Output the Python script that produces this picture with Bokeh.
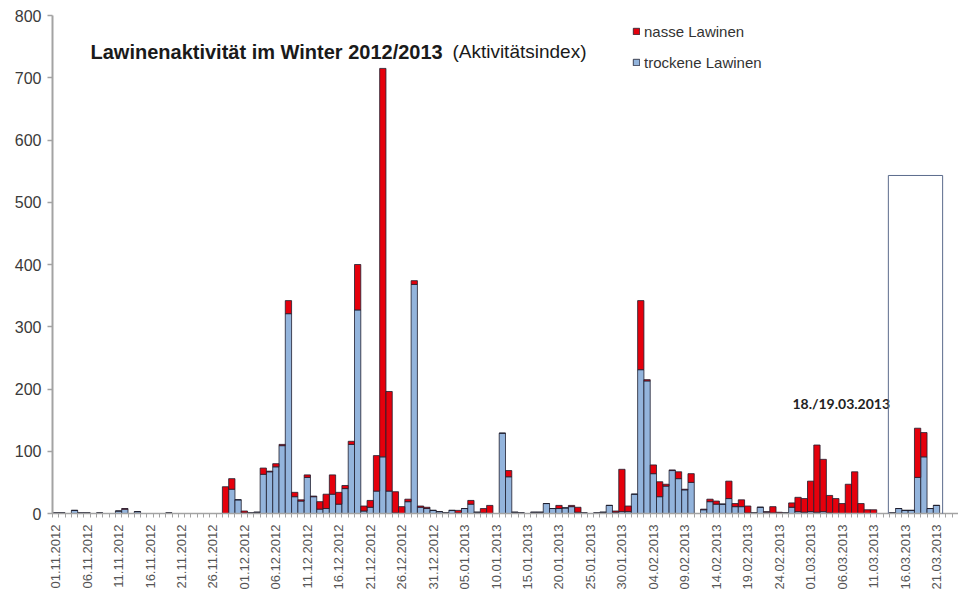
import math
import pandas as pd
from bokeh.plotting import figure
from bokeh.models import (ColumnDataSource, Range1d, FixedTicker, Label, Legend,
                          LegendItem)
from bokeh.embed import file_html
from bokeh.resources import INLINE

# ---------------- data ----------------
dates = pd.date_range("2012-11-01", "2013-03-24").strftime("%d.%m.%Y").tolist()

# trockene Lawinen (dry) per day, 01.11.2012 ... 24.03.2013
trocken = [
    1, 1, 0, 5, 1, 1, 0, 1, 0, 0,            # 01.11 - 10.11
    4, 7, 0, 3, 0, 0, 0, 0, 1, 0,            # 11.11 - 20.11
    0, 0, 0, 0, 0, 0, 0, 0, 39, 22,          # 21.11 - 30.11
    1, 1, 2, 63, 67, 75, 109, 321, 27, 20,   # 01.12 - 10.12
    58, 27, 7, 8, 31, 15, 40, 111, 327, 4,   # 11.12 - 20.12
    10, 36, 91, 36, 1, 0, 19, 368, 10, 8,    # 21.12 - 30.12
    5,                                       # 31.12
    3, 1, 5, 1, 8, 15, 2, 1, 0, 0,           # 01.01 - 10.01
    129, 59, 2, 1, 0, 2, 2, 16, 8, 8,        # 11.01 - 20.01
    9, 11, 2, 1, 0, 1, 2, 13, 2, 3,          # 21.01 - 30.01
    3,                                       # 31.01
    31, 231, 213, 64, 27, 44, 69, 56, 38, 50,  # 01.02 - 10.02
    0, 6, 19, 15, 15, 24, 11, 11, 1, 1,      # 11.02 - 20.02
    10, 2, 1, 1, 1, 10, 3, 2,                # 21.02 - 28.02
    3, 2, 3, 1, 0, 0, 0, 0, 0, 0,            # 01.03 - 10.03
    0, 0, 0, 1, 8, 5, 5, 58, 91, 8,          # 11.03 - 20.03
    13, 0, 0, 0,                             # 21.03 - 24.03
]

# nasse Lawinen (wet) per day
nass = [
    0, 0, 0, 0, 0, 0, 0, 0, 0, 0,
    0, 1, 0, 0, 0, 0, 0, 0, 0, 0,
    0, 0, 0, 0, 0, 0, 0, 43, 17, 0,
    3, 0, 0, 10, 1, 5, 2, 21, 7, 2,
    4, 1, 12, 23, 31, 19, 5, 5, 73, 8,
    11, 57, 624, 160, 34, 11, 4, 6, 2, 2,
    0,
    0, 0, 0, 4, 0, 6, 0, 7, 13, 0,
    0, 10, 0, 0, 0, 0, 0, 0, 0, 5,
    0, 2, 8, 0, 0, 0, 0, 0, 2, 68,
    9,
    0, 111, 2, 14, 24, 3, 1, 11, 1, 14,
    0, 1, 4, 5, 0, 28, 5, 11, 11, 0,
    0, 1, 10, 1, 0, 7, 23, 22,
    49, 108, 84, 28, 24, 16, 47, 67, 16, 6,
    6, 0, 0, 0, 0, 0, 0, 79, 39, 0,
    0, 0, 0, 0,
]

tick_labels = [
    "01.11.2012", "06.11.2012", "11.11.2012", "16.11.2012", "21.11.2012",
    "26.11.2012", "01.12.2012", "06.12.2012", "11.12.2012", "16.12.2012",
    "21.12.2012", "26.12.2012", "31.12.2012", "05.01.2013", "10.01.2013",
    "15.01.2013", "20.01.2013", "25.01.2013", "30.01.2013", "04.02.2013",
    "09.02.2013", "14.02.2013", "19.02.2013", "24.02.2013", "01.03.2013",
    "06.03.2013", "11.03.2013", "16.03.2013", "21.03.2013",
]

y_ticks = [0, 100, 200, 300, 400, 500, 600, 700, 800]

series_names = ["nasse Lawinen", "trockene Lawinen"]
title_bold = "Lawinenaktivität im Winter 2012/2013"
title_normal = "(Aktivitätsindex)"
note_text = "18./19.03.2013"

# ---------------- figure ----------------
x_idx = list(range(len(dates)))
src = ColumnDataSource(dict(x=x_idx, date=dates, trocken=trocken, nass=nass))

RED = "#E5000C"
BLUE = "#93B4DC"
EDGE = "#1E1E2E"
AXIS = "#A3A3A3"
FONT = "Liberation Sans"

p = figure(width=958, height=592,
           x_range=Range1d(-0.5, 143.5), y_range=Range1d(0, 800),
           output_backend="svg", toolbar_location=None,
           min_border_left=52, min_border_right=0,
           min_border_top=15, min_border_bottom=79)
p.outline_line_color = None
p.xgrid.grid_line_color = None
p.ygrid.grid_line_color = None
p.background_fill_color = "white"

rs = p.vbar_stack(["trocken", "nass"], x="x", width=1.0, source=src,
                  color=[BLUE, RED], line_color=EDGE, line_width=0.8)
r_dry, r_wet = rs

# y axis
ya = p.yaxis[0]
ya.ticker = FixedTicker(ticks=y_ticks)
ya.axis_line_color = AXIS
ya.axis_line_width = 2
ya.major_tick_line_color = AXIS
ya.major_tick_line_width = 1.5
ya.major_tick_out = 5
ya.major_tick_in = 0
ya.minor_tick_line_color = None
ya.major_label_text_font = FONT
ya.major_label_text_font_size = "16px"
ya.major_label_text_color = "#3A3A3A"
ya.major_label_standoff = 6

# x axis
tick_pos = [dates.index(t) for t in tick_labels]
boundaries = [i - 0.5 for i in range(len(dates) + 1)]
xa = p.xaxis[0]
xa.ticker = FixedTicker(ticks=tick_pos, minor_ticks=boundaries)
xa.major_label_overrides = {t: lab for t, lab in zip(tick_pos, tick_labels)}
xa.major_label_orientation = math.pi / 2
xa.axis_line_color = AXIS
xa.axis_line_width = 1.5
xa.major_tick_out = 0
xa.major_tick_in = 0
xa.major_tick_line_color = None
xa.minor_tick_out = 4
xa.minor_tick_in = 0
xa.minor_tick_line_color = AXIS
xa.major_label_text_font = FONT
xa.major_label_text_font_size = "13px"
xa.major_label_text_color = "#555555"
xa.major_label_standoff = 7

# title texts
p.add_layout(Label(x=5.54, y=742, text=title_bold, text_font=FONT,
                   text_font_style="bold", text_font_size="20px",
                   text_color="#1A1A1A", text_baseline="alphabetic"))
p.add_layout(Label(x=63.06, y=742, text=title_normal, text_font=FONT,
                   text_font_size="19px", text_color="#1A1A1A",
                   text_baseline="alphabetic"))

# annotation
p.add_layout(Label(x=117.1, y=177, text=note_text, text_font="Lato",
                   text_font_style="bold", text_font_size="14px",
                   text_color="#222222", text_baseline="alphabetic"))

# highlight frame (extends down through the date labels, not clipped)
p.add_layout(Label(x=132.35, y=543, text=" ", text_font_size="1px",
                   text_align="left", text_baseline="top",
                   padding=(0, 54, 440, 0),
                   border_line_color="#5B6B8C", border_line_width=1,
                   background_fill_alpha=0))

# legend
legend = Legend(items=[LegendItem(label=series_names[0], renderers=[r_wet]),
                       LegendItem(label=series_names[1], renderers=[r_dry])],
                location=(580, 441), orientation="vertical",
                glyph_width=8, glyph_height=8, label_height=20,
                spacing=11, padding=0, margin=0, label_standoff=4,
                label_text_font=FONT, label_text_font_size="15px",
                label_text_color="#333333",
                border_line_alpha=0, background_fill_alpha=0)
p.add_layout(legend)

open("out.html", "w").write(file_html(p, INLINE))
